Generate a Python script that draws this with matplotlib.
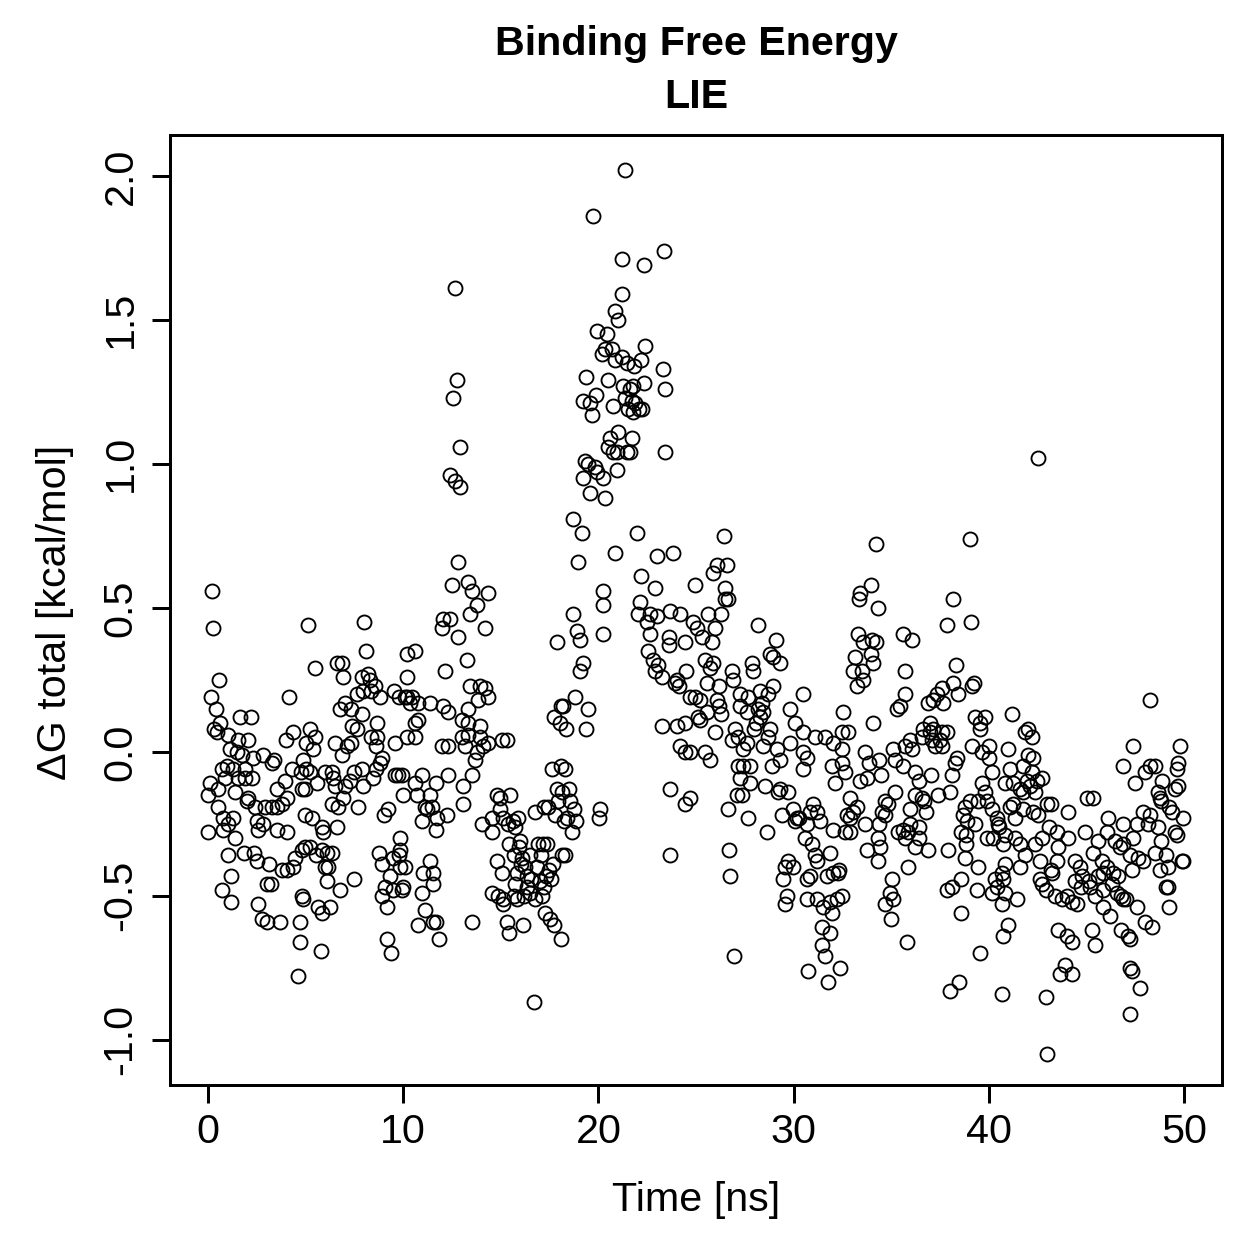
import numpy as np
import matplotlib
matplotlib.use("Agg")
import matplotlib.pyplot as plt

# (time [ns], dG [kcal/mol]) pairs, in 5 ns windows
seg_00_05 = [(0.2, 0.56), (0.26, 0.43), (0.56, 0.25), (0.15, 0.19), (0.4, 0.15), (0.6, 0.10), (0.3, 0.08),
             (0.45, 0.07), (1.0, 0.06), (1.65, 0.12), (2.2, 0.12), (4.15, 0.19), (1.1, 0.01), (1.55, 0.04),
             (2.05, 0.04), (1.5, 0.0), (1.75, -0.01), (2.3, -0.02), (2.8, -0.01), (3.4, -0.03), (0.7, -0.06),
             (0.95, -0.05), (1.3, -0.06), (1.9, -0.06), (0.85, -0.09), (1.55, -0.09), (1.9, -0.09), (2.25, -0.09),
             (0.1, -0.11), (0.5, -0.13), (0.0, -0.15), (1.4, -0.14), (2.05, -0.16), (2.0, -0.17), (2.4, -0.19),
             (2.9, -0.19), (3.3, -0.19), (3.55, -0.19), (3.8, -0.18), (4.05, -0.16), (3.55, -0.13), (3.95, -0.10),
             (4.3, -0.06), (0.5, -0.19), (0.75, -0.23), (1.3, -0.23), (1.0, -0.25), (2.5, -0.24), (2.8, -0.25),
             (2.55, -0.27), (3.55, -0.27), (4.05, -0.28), (0.0, -0.28), (0.75, -0.27), (1.4, -0.30), (1.0, -0.36),
             (1.85, -0.35), (2.35, -0.35), (2.5, -0.38), (3.1, -0.39), (3.8, -0.41), (4.05, -0.41), (4.35, -0.40),
             (4.45, -0.37), (4.8, -0.34), (3.0, -0.46), (3.2, -0.46), (1.2, -0.43), (0.7, -0.48), (1.2, -0.52),
             (2.55, -0.53), (2.75, -0.58), (3.0, -0.59), (3.7, -0.59), (4.6, -0.78), (4.0, 0.04), (4.35, 0.07),
             (3.3, -0.04), (4.75, -0.07), (4.8, -0.13), (4.95, -0.22)]

seg_05_10 = [(5.1, 0.44), (8.0, 0.45), (8.1, 0.35), (5.5, 0.29), (6.6, 0.31), (6.85, 0.31), (6.9, 0.26),
             (10.2, 0.34), (7.9, 0.26), (8.2, 0.27), (8.3, 0.25), (8.55, 0.23), (8.8, 0.19), (7.65, 0.20),
             (7.95, 0.21), (8.35, 0.21), (9.55, 0.21), (9.8, 0.19), (10.2, 0.19), (10.35, 0.17), (10.2, 0.26),
             (7.0, 0.17), (7.3, 0.15), (6.75, 0.15), (7.9, 0.13), (8.65, 0.10), (7.4, 0.09), (7.65, 0.08),
             (5.2, 0.08), (5.5, 0.05), (5.4, 0.01), (5.0, 0.03), (6.5, 0.03), (6.85, -0.01), (7.1, 0.02),
             (7.3, 0.03), (8.35, 0.05), (8.65, 0.05), (8.6, 0.02), (9.6, 0.03), (10.2, 0.05), (8.9, -0.02),
             (8.8, -0.04), (8.6, -0.06), (4.85, -0.03), (5.0, -0.06), (5.2, -0.07), (4.95, -0.13), (6.0, -0.07),
             (6.35, -0.07), (6.4, -0.09), (6.5, -0.12), (7.0, -0.12), (7.25, -0.10), (7.5, -0.07), (7.9, -0.06),
             (7.95, -0.12), (8.45, -0.09), (5.6, -0.11), (6.9, -0.16), (6.65, -0.19), (6.35, -0.18), (7.7, -0.19),
             (9.6, -0.08), (9.75, -0.08), (10.0, -0.15), (9.0, -0.22), (9.2, -0.20), (5.35, -0.23), (5.85, -0.26),
             (5.9, -0.28), (6.6, -0.26), (9.85, -0.30), (4.95, -0.33), (5.2, -0.33), (5.55, -0.36), (5.85, -0.34),
             (6.1, -0.35), (6.35, -0.35), (6.0, -0.40), (6.15, -0.40), (6.1, -0.45), (6.75, -0.48), (7.5, -0.44),
             (8.75, -0.35), (8.9, -0.39), (9.5, -0.37), (9.8, -0.36), (10.1, -0.40), (9.85, -0.40), (9.3, -0.43),
             (9.05, -0.47), (8.9, -0.50), (9.15, -0.54), (9.5, -0.48), (9.95, -0.48), (4.8, -0.50), (4.85, -0.51),
             (5.65, -0.54), (5.85, -0.56), (6.25, -0.54), (4.7, -0.59), (4.7, -0.66), (5.8, -0.69), (9.15, -0.65),
             (9.35, -0.70)]

seg_10_15 = [(12.65, 1.61), (12.75, 1.29), (12.55, 1.23), (12.9, 1.06), (12.4, 0.96), (12.65, 0.94), (12.9, 0.92),
             (12.8, 0.66), (12.5, 0.58), (13.3, 0.59), (13.5, 0.56), (14.35, 0.55), (13.8, 0.51), (13.4, 0.48),
             (14.2, 0.43), (12.05, 0.46), (12.4, 0.46), (12.0, 0.43), (12.8, 0.40), (13.25, 0.32), (12.15, 0.28),
             (10.6, 0.35), (10.1, 0.19), (10.45, 0.19), (10.75, 0.17), (10.75, 0.11), (10.6, 0.10), (10.6, 0.05),
             (11.35, 0.17), (12.05, 0.16), (12.3, 0.14), (13.0, 0.11), (13.3, 0.10), (13.95, 0.09), (13.4, 0.23),
             (13.95, 0.23), (14.2, 0.22), (14.35, 0.19), (13.85, 0.18), (13.3, 0.15), (13.0, 0.05), (13.3, 0.06),
             (13.95, 0.05), (14.1, 0.02), (14.35, 0.03), (15.05, 0.04), (15.3, 0.04), (13.8, 0.0), (13.7, -0.03),
             (13.15, 0.02), (12.3, 0.02), (12.0, 0.02), (13.5, -0.08), (9.95, -0.08), (10.6, -0.11), (10.95, -0.08),
             (10.7, -0.15), (11.35, -0.15), (11.7, -0.11), (12.3, -0.08), (11.1, -0.19), (11.2, -0.20),
             (11.45, -0.19), (10.95, -0.24), (11.75, -0.23), (11.7, -0.27), (12.25, -0.22), (13.05, -0.12),
             (13.05, -0.18), (14.8, -0.15), (14.95, -0.16), (15.45, -0.15), (14.05, -0.25), (14.55, -0.23),
             (14.95, -0.20), (15.1, -0.23), (14.55, -0.28), (15.35, -0.25), (9.85, -0.34), (10.0, -0.47),
             (11.0, -0.42), (11.35, -0.38), (11.55, -0.42), (11.5, -0.46), (10.95, -0.49), (11.1, -0.55),
             (10.75, -0.60), (11.5, -0.59), (11.7, -0.59), (11.85, -0.65), (13.5, -0.59), (14.8, -0.38),
             (15.05, -0.42), (14.55, -0.49), (14.85, -0.50), (15.1, -0.51), (15.1, -0.53), (15.3, -0.59)]

seg_15_20 = [(15.6, -0.24), (15.75, -0.26), (15.9, -0.23), (16.0, -0.31), (15.4, -0.32), (15.7, -0.36),
             (15.95, -0.33), (16.1, -0.37), (16.25, -0.40), (16.5, -0.36), (16.05, -0.39), (16.35, -0.43),
             (15.85, -0.42), (15.75, -0.46), (15.65, -0.50), (15.85, -0.51), (16.2, -0.50), (16.35, -0.47),
             (16.55, -0.44), (16.5, -0.49), (16.75, -0.51), (17.0, -0.45), (16.85, -0.40), (17.05, -0.36),
             (17.15, -0.32), (16.9, -0.32), (17.35, -0.32), (17.2, -0.47), (17.3, -0.43), (17.45, -0.41),
             (17.55, -0.44), (17.65, -0.39), (17.1, -0.50), (16.75, -0.21), (17.2, -0.19), (17.4, -0.19),
             (17.6, -0.06), (17.9, -0.13), (17.8, -0.22), (17.95, -0.17), (17.25, -0.56), (17.5, -0.58),
             (17.75, -0.60), (18.1, -0.65), (18.15, -0.36), (18.3, -0.36), (18.25, -0.24), (18.4, -0.23),
             (18.55, -0.17), (18.65, -0.28), (18.75, -0.20), (18.85, -0.24), (16.7, -0.87), (16.15, -0.60),
             (18.1, -0.05), (18.3, -0.06), (18.5, -0.13), (18.15, -0.14), (15.4, -0.63),
             (19.7, 1.86), (19.95, 1.46), (19.35, 1.30), (19.2, 1.22), (19.55, 1.21), (19.9, 1.24), (19.65, 1.17),
             (19.3, 1.01), (19.45, 1.00), (19.85, 0.99), (19.95, 0.97), (19.2, 0.95), (19.55, 0.90), (18.7, 0.81),
             (19.15, 0.76), (18.95, 0.66), (18.7, 0.48), (18.9, 0.42), (19.05, 0.39), (17.9, 0.38), (19.2, 0.31),
             (19.05, 0.28), (18.8, 0.19), (18.2, 0.16), (19.45, 0.15), (17.7, 0.12), (18.05, 0.10), (18.35, 0.08),
             (19.35, 0.08), (18.1, 0.16)]

seg_20_25 = [(23.35, 1.74), (21.2, 1.71), (22.35, 1.69), (21.2, 1.59), (21.35, 2.02), (20.85, 1.53), (21.0, 1.50),
             (20.45, 1.45), (20.35, 1.40), (20.2, 1.38), (20.7, 1.40), (20.85, 1.36), (21.2, 1.37), (21.45, 1.35),
             (21.8, 1.34), (22.2, 1.36), (22.4, 1.41), (23.3, 1.33), (23.4, 1.26), (20.5, 1.29), (21.25, 1.27),
             (21.6, 1.26), (21.75, 1.27), (22.35, 1.28), (21.35, 1.23), (21.7, 1.22), (21.85, 1.21), (22.1, 1.19),
             (22.25, 1.19), (21.5, 1.19), (21.75, 1.18), (20.75, 1.20), (21.0, 1.11), (20.6, 1.09), (20.5, 1.06),
             (20.75, 1.04), (20.95, 1.04), (21.45, 1.04), (21.6, 1.04), (21.7, 1.09), (20.95, 0.98), (23.4, 1.04),
             (20.25, 0.95), (20.35, 0.88), (22.0, 0.76), (20.85, 0.69), (23.0, 0.68), (23.8, 0.69), (22.2, 0.61),
             (22.9, 0.57), (24.95, 0.58), (20.25, 0.56), (20.25, 0.51), (20.25, 0.41), (22.15, 0.52), (22.05, 0.48),
             (22.65, 0.48), (23.0, 0.47), (23.65, 0.49), (24.2, 0.48), (24.85, 0.45), (25.05, 0.43), (22.5, 0.45),
             (22.65, 0.41), (22.55, 0.35), (23.6, 0.40), (23.6, 0.37), (24.45, 0.38), (22.8, 0.32), (23.05, 0.30),
             (22.9, 0.28), (23.25, 0.26), (23.9, 0.24), (24.05, 0.25), (24.5, 0.28), (24.15, 0.23), (24.7, 0.19),
             (24.95, 0.19), (25.1, 0.12), (24.45, 0.10), (24.05, 0.09), (23.25, 0.09), (24.2, 0.02), (24.45, 0.0),
             (24.7, 0.0), (23.65, -0.13), (24.45, -0.18), (24.7, -0.16), (23.65, -0.36), (20.1, -0.20),
             (20.05, -0.23)]

seg_25_30 = [(26.45, 0.75), (26.1, 0.65), (26.6, 0.65), (25.85, 0.62), (26.5, 0.57), (26.5, 0.53), (26.65, 0.53),
             (25.6, 0.48), (26.3, 0.48), (25.95, 0.43), (28.2, 0.44), (29.1, 0.39), (28.8, 0.34), (28.95, 0.33),
             (29.3, 0.31), (25.3, 0.40), (25.8, 0.38), (25.45, 0.32), (25.85, 0.31), (25.7, 0.29), (27.85, 0.31),
             (27.9, 0.28), (26.85, 0.28), (26.9, 0.25), (25.55, 0.24), (26.2, 0.23), (26.1, 0.18), (26.2, 0.16),
             (25.2, 0.18), (25.55, 0.14), (25.2, 0.11), (25.95, 0.07), (26.3, 0.13), (27.25, 0.20), (27.65, 0.19),
             (27.25, 0.16), (27.6, 0.14), (28.3, 0.21), (28.7, 0.20), (28.95, 0.23), (28.4, 0.17), (28.2, 0.15),
             (28.45, 0.14), (28.05, 0.10), (27.95, 0.08), (28.3, 0.12), (29.8, 0.15), (30.05, 0.10), (29.8, 0.03),
             (27.0, 0.08), (26.85, 0.04), (27.15, 0.05), (27.4, 0.01), (27.6, 0.03), (28.8, 0.08), (28.7, 0.05),
             (28.45, 0.02), (29.15, 0.01), (29.3, -0.03), (28.9, -0.05), (25.45, 0.0), (25.7, -0.03),
             (27.15, -0.05), (27.4, -0.05), (27.75, -0.05), (27.25, -0.09), (27.75, -0.11), (27.1, -0.15),
             (27.35, -0.15), (28.55, -0.12), (29.3, -0.13), (29.7, -0.14), (29.2, -0.14), (26.65, -0.20),
             (27.65, -0.23), (28.65, -0.28), (29.4, -0.22), (29.95, -0.20), (30.15, -0.23), (30.05, -0.24),
             (26.7, -0.34), (26.75, -0.43), (26.95, -0.71), (29.7, -0.38), (29.55, -0.40), (29.95, -0.40),
             (29.45, -0.44), (29.65, -0.50), (29.55, -0.53)]

seg_30_35 = [(34.2, 0.72), (33.95, 0.58), (33.4, 0.55), (33.35, 0.53), (34.3, 0.50), (33.3, 0.41), (33.55, 0.38),
             (34.0, 0.39), (34.2, 0.38), (33.95, 0.34), (34.05, 0.31), (33.15, 0.33), (33.05, 0.28), (33.5, 0.28),
             (33.55, 0.25), (33.25, 0.23), (35.3, 0.15), (30.5, 0.20), (32.55, 0.14), (32.5, 0.07), (32.8, 0.07),
             (34.05, 0.10), (30.5, 0.07), (31.1, 0.05), (31.6, 0.05), (32.0, 0.03), (32.5, 0.01), (30.5, 0.0),
             (30.5, -0.06), (30.7, -0.02), (31.95, -0.05), (32.1, -0.11), (32.5, -0.04), (32.65, -0.07),
             (33.65, 0.0), (33.85, -0.04), (34.4, -0.03), (34.5, -0.08), (35.1, 0.01), (35.2, -0.03),
             (33.4, -0.10), (33.75, -0.09), (35.2, -0.14), (34.7, -0.17), (34.85, -0.18), (34.55, -0.21),
             (34.7, -0.22), (34.4, -0.25), (32.9, -0.16), (32.75, -0.22), (33.05, -0.21), (32.9, -0.23),
             (33.25, -0.19), (33.65, -0.25), (32.65, -0.28), (32.9, -0.28), (31.0, -0.18), (30.85, -0.21),
             (31.2, -0.21), (31.35, -0.24), (30.3, -0.23), (30.7, -0.25), (32.0, -0.27), (30.6, -0.30),
             (30.95, -0.32), (31.1, -0.36), (31.2, -0.38), (31.85, -0.35), (30.7, -0.44), (30.85, -0.43),
             (31.7, -0.43), (32.0, -0.42), (32.25, -0.42), (32.35, -0.41), (34.35, -0.30), (34.45, -0.33),
             (34.35, -0.38), (33.75, -0.34), (35.35, -0.28), (35.05, -0.44), (34.95, -0.49), (35.1, -0.51),
             (34.7, -0.53), (35.0, -0.58), (30.7, -0.51), (31.2, -0.51), (31.5, -0.54), (31.85, -0.52),
             (31.95, -0.56), (32.2, -0.51), (32.5, -0.50), (31.45, -0.61), (31.85, -0.63), (31.45, -0.67),
             (31.6, -0.71), (30.75, -0.76), (32.4, -0.75), (31.75, -0.80)]

seg_35_40 = [(39.05, 0.74), (38.15, 0.53), (37.85, 0.44), (39.1, 0.45), (35.6, 0.41), (36.05, 0.39), (35.7, 0.28),
             (35.7, 0.20), (35.45, 0.16), (38.3, 0.30), (38.15, 0.24), (38.4, 0.20), (39.15, 0.23), (39.25, 0.24),
             (37.6, 0.22), (37.35, 0.20), (37.15, 0.18), (36.9, 0.17), (37.65, 0.17), (39.3, 0.12), (39.8, 0.12),
             (39.55, 0.10), (39.55, 0.08), (37.0, 0.10), (36.65, 0.08), (37.0, 0.07), (37.15, 0.08), (37.6, 0.07),
             (37.85, 0.07), (37.1, 0.04), (37.5, 0.04), (37.25, 0.02), (37.6, 0.02), (35.95, 0.04), (36.6, 0.05),
             (36.05, 0.01), (35.7, 0.02), (39.15, 0.02), (39.65, 0.0), (40.0, 0.02), (40.0, -0.02), (38.35, -0.02),
             (38.25, -0.04), (38.1, -0.08), (37.4, -0.15), (38.0, -0.14), (35.6, -0.05), (36.2, -0.07),
             (36.45, -0.10), (37.05, -0.08), (36.6, -0.16), (36.7, -0.17), (36.2, -0.15), (35.95, -0.20),
             (36.8, -0.21), (35.95, -0.25), (35.6, -0.27), (36.45, -0.26), (40.15, -0.07), (39.65, -0.11),
             (39.8, -0.14), (39.45, -0.17), (39.05, -0.17), (38.8, -0.19), (38.7, -0.22), (38.9, -0.24),
             (39.3, -0.25), (39.9, -0.17), (40.15, -0.20), (40.4, -0.23), (40.45, -0.25), (40.2, -0.30),
             (39.9, -0.30), (35.85, -0.28), (35.7, -0.30), (36.2, -0.33), (36.45, -0.30), (36.9, -0.34),
             (37.9, -0.34), (38.6, -0.28), (38.85, -0.29), (38.85, -0.32), (38.8, -0.37), (35.85, -0.40),
             (39.45, -0.40), (38.6, -0.44), (38.1, -0.47), (37.85, -0.48), (39.4, -0.48), (38.6, -0.56),
             (40.3, -0.44), (40.4, -0.47), (40.15, -0.49), (35.8, -0.66), (39.55, -0.70), (38.0, -0.83),
             (38.5, -0.80)]

seg_40_45 = [(42.5, 1.02), (41.2, 0.13), (42.0, 0.08), (41.85, 0.07), (42.2, 0.05), (41.0, 0.01), (42.0, -0.01),
             (42.25, -0.02), (41.75, -0.05), (41.1, -0.06), (42.2, -0.07), (40.85, -0.11), (41.25, -0.11),
             (41.95, -0.10), (42.45, -0.10), (42.75, -0.09), (41.6, -0.13), (41.75, -0.14), (42.1, -0.12),
             (42.35, -0.14), (41.25, -0.18), (41.1, -0.19), (41.35, -0.23), (41.75, -0.20), (42.25, -0.21),
             (42.5, -0.22), (43.0, -0.18), (43.2, -0.18), (44.05, -0.21), (45.05, -0.16), (43.1, -0.26),
             (43.5, -0.28), (42.75, -0.30), (42.35, -0.32), (43.55, -0.33), (44.05, -0.30), (44.95, -0.28),
             (40.55, -0.26), (40.85, -0.29), (40.75, -0.32), (41.35, -0.30), (41.6, -0.32), (41.85, -0.36),
             (41.6, -0.40), (40.85, -0.39), (40.7, -0.42), (40.75, -0.44), (42.6, -0.44), (42.75, -0.46),
             (43.2, -0.41), (43.25, -0.42), (43.5, -0.38), (42.6, -0.38), (42.95, -0.48), (43.4, -0.50),
             (43.75, -0.51), (44.0, -0.50), (44.4, -0.38), (44.65, -0.40), (44.8, -0.43), (44.75, -0.47),
             (45.15, -0.45), (44.4, -0.45), (44.25, -0.52), (44.5, -0.53), (40.85, -0.49), (40.7, -0.53),
             (41.45, -0.51), (43.55, -0.62), (44.0, -0.64), (44.25, -0.66), (43.9, -0.74), (43.65, -0.77),
             (44.25, -0.77), (40.75, -0.64), (41.0, -0.60), (40.7, -0.84), (42.95, -0.85), (43.0, -1.05)]

seg_45_50 = [(48.25, 0.18), (47.4, 0.02), (49.8, 0.02), (46.9, -0.05), (48.0, -0.07), (48.25, -0.05),
             (48.5, -0.05), (47.5, -0.11), (49.7, -0.04), (49.65, -0.06), (48.9, -0.10), (48.65, -0.14),
             (48.75, -0.16), (48.85, -0.17), (49.25, -0.19), (49.55, -0.13), (49.7, -0.12), (49.4, -0.21),
             (49.95, -0.23), (49.55, -0.28), (49.65, -0.29), (47.9, -0.21), (48.25, -0.22), (48.15, -0.25),
             (48.65, -0.26), (48.85, -0.31), (48.5, -0.35), (49.1, -0.36), (49.2, -0.40), (48.75, -0.41),
             (49.1, -0.47), (49.25, -0.54), (49.9, -0.38), (49.95, -0.38), (46.9, -0.25), (47.6, -0.25),
             (47.4, -0.30), (46.9, -0.32), (47.25, -0.36), (47.65, -0.37), (47.9, -0.38), (47.35, -0.41),
             (46.7, -0.33), (46.45, -0.31), (46.1, -0.23), (46.05, -0.28), (45.6, -0.31), (45.35, -0.16),
             (45.35, -0.35), (45.8, -0.38), (46.05, -0.40), (45.85, -0.42), (46.35, -0.42), (46.6, -0.43),
             (46.3, -0.46), (46.55, -0.49), (46.8, -0.50), (47.05, -0.51), (45.85, -0.48), (45.45, -0.50),
             (45.6, -0.43), (45.2, -0.47), (45.85, -0.54), (46.2, -0.57), (46.9, -0.51), (47.6, -0.54),
             (48.0, -0.59), (48.35, -0.61), (46.8, -0.62), (47.15, -0.64), (47.25, -0.65), (45.3, -0.62),
             (45.45, -0.67), (47.25, -0.75), (47.35, -0.76), (47.75, -0.82), (47.25, -0.91), (49.2, -0.47)]

segments = [seg_00_05, seg_05_10, seg_10_15, seg_15_20, seg_20_25,
            seg_25_30, seg_30_35, seg_35_40, seg_40_45, seg_45_50]
pts = np.array([p for seg in segments for p in seg])
time_ns = pts[:, 0]
dg_total = pts[:, 1]

x_ticks = [0, 10, 20, 30, 40, 50]
y_ticks = [-1.0, -0.5, 0.0, 0.5, 1.0, 1.5, 2.0]
y_tick_labels = ["-1.0", "-0.5", "0.0", "0.5", "1.0", "1.5", "2.0"]

plt.rcParams['font.family'] = ['Liberation Sans', 'DejaVu Sans']

W = 1259
fig = plt.figure(figsize=(W / 180, W / 180), dpi=180)
ax = fig.add_axes([170 / W, 1 - 1085 / W, (1222 - 170) / W, (1085 - 135) / W])

ax.plot(time_ns, dg_total, linestyle='none', marker='o', markersize=5.6,
        markerfacecolor='none', markeredgecolor='black', markeredgewidth=0.75)

ax.set_xlim(-1.95, 51.95)
ax.set_ylim(-1.157, 2.142)
ax.set_xticks(x_ticks)
ax.set_xticklabels([str(t) for t in x_ticks], fontsize=16.5)
ax.set_yticks(y_ticks)
ax.set_yticklabels(y_tick_labels, rotation=90, va='center', fontsize=16.5)
ax.tick_params(axis='both', direction='out', length=7.2, width=1.2, color='black')
ax.tick_params(axis='x', pad=4)
ax.tick_params(axis='y', pad=5)
for sp in ax.spines.values():
    sp.set_linewidth(1.2)
    sp.set_color('black')

fig.text(696 / W, 1 - 55 / W, "Binding Free Energy", ha='center', va='baseline',
         fontsize=16.5, fontweight='bold')
fig.text(696 / W, 1 - 108 / W, "LIE", ha='center', va='baseline',
         fontsize=16.5, fontweight='bold')
fig.text(696 / W, 1 - 1200 / W, "Time [ns]", ha='center', va='center', fontsize=16.5)
fig.text(55 / W, 1 - 612 / W, "ΔG total [kcal/mol]", ha='center', va='center',
         rotation=90, fontsize=16.5)

fig.savefig("out.png", dpi=180)
